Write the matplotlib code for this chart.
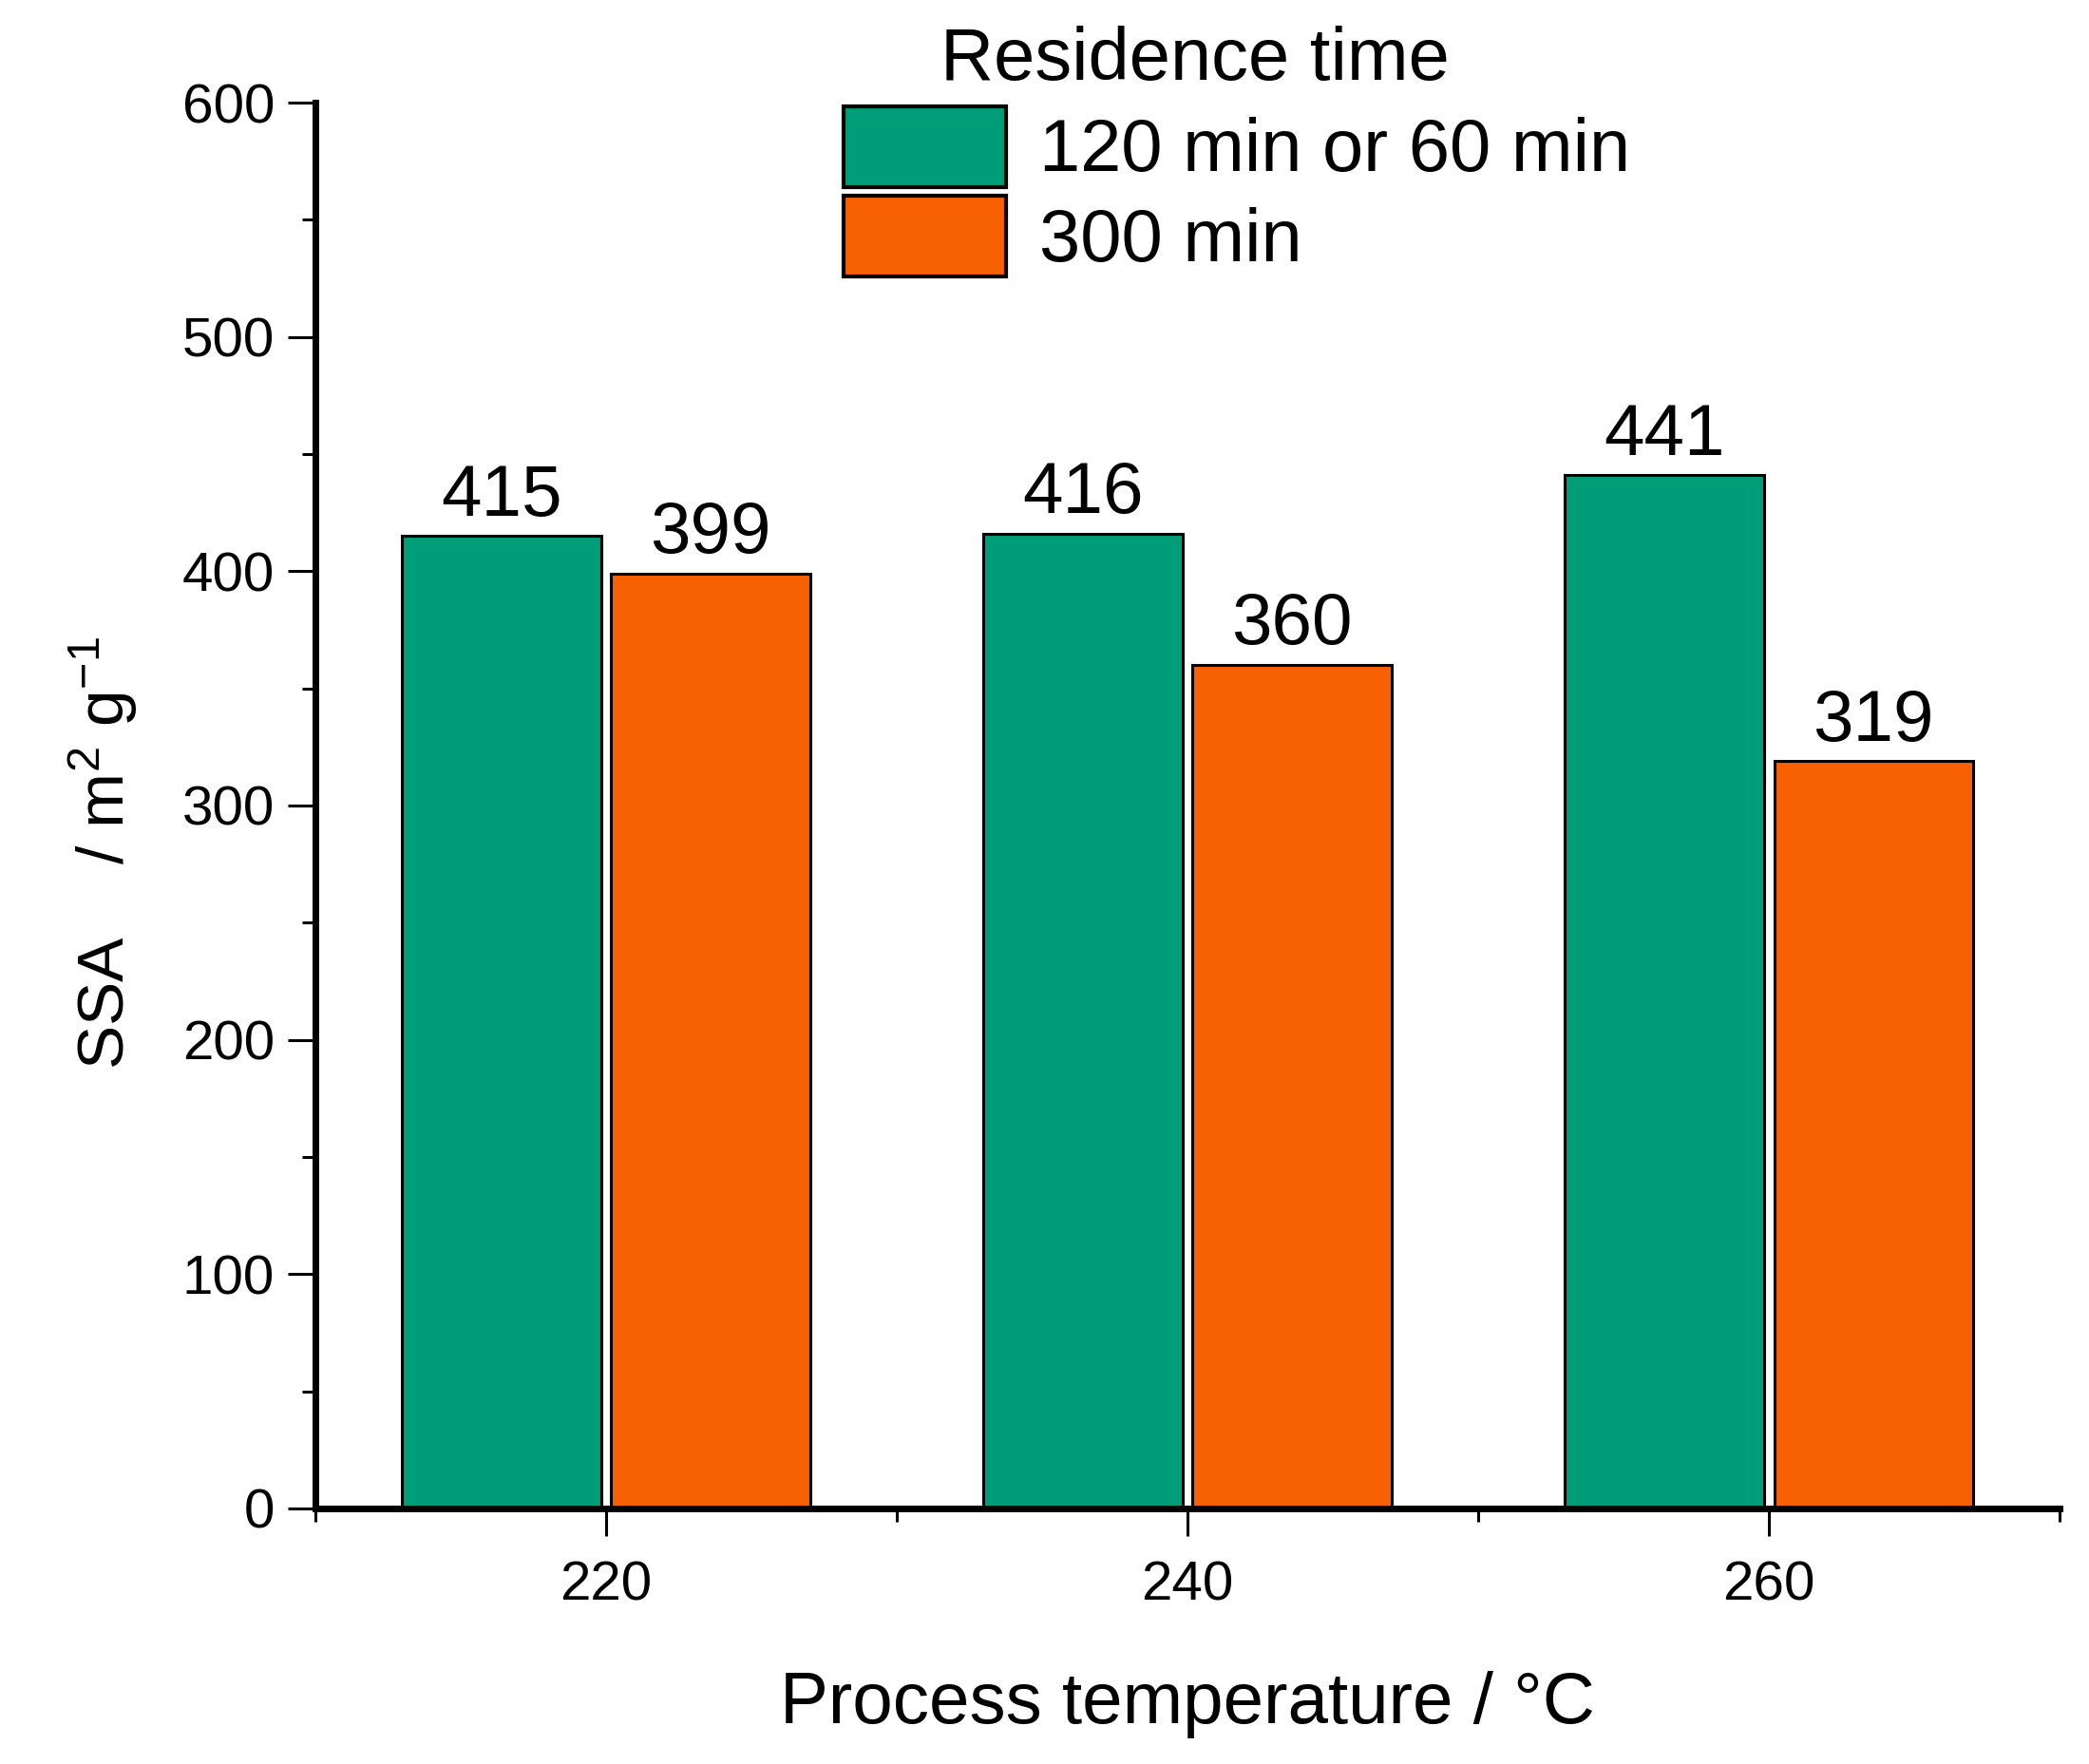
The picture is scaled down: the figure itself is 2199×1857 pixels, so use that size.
import numpy as np
import matplotlib.pyplot as plt
from matplotlib.ticker import MultipleLocator

plt.rcParams['font.family'] = ['Liberation Sans', 'DejaVu Sans']
plt.rcParams['mathtext.fontset'] = 'custom'
plt.rcParams['mathtext.rm'] = 'Liberation Sans'
plt.rcParams['mathtext.default'] = 'regular'

# data
temps = [220, 240, 260]
ssa_short = [415, 416, 441]   # 120 min or 60 min
ssa_long = [399, 360, 319]    # 300 min
series_labels = ['120 min or 60 min', '300 min']
legend_title = 'Residence time'

green = '#009E78'
orange = '#F86103'

fig = plt.figure(figsize=(21.99, 18.57), dpi=100)
ax = fig.add_axes([0.151, 0.1449, 0.835, 0.7969])

x = np.array(temps, dtype=float)
w = 6.85
b1 = ax.bar(x - 3.6, ssa_short, width=w, color=green, edgecolor='black',
            linewidth=2.2, label=series_labels[0])
b2 = ax.bar(x + 3.6, ssa_long, width=w, color=orange, edgecolor='black',
            linewidth=2.2, label=series_labels[1])
ax.bar_label(b1, padding=4, fontsize=55)
ax.bar_label(b2, padding=4, fontsize=55)

ax.set_xlim(210, 270)
ax.set_ylim(0, 600)
ax.set_xticks(temps)
ax.xaxis.set_minor_locator(MultipleLocator(10))
ax.yaxis.set_major_locator(MultipleLocator(100))
ax.yaxis.set_minor_locator(MultipleLocator(50))

for s in ['top', 'right']:
    ax.spines[s].set_visible(False)
for s in ['left', 'bottom']:
    ax.spines[s].set_linewidth(5)

ax.tick_params(which='major', direction='out', length=21, width=2.2, labelsize=42)
ax.tick_params(axis='y', which='major', pad=10)
ax.tick_params(axis='x', which='major', pad=18)
ax.tick_params(which='minor', direction='out', length=10, width=2.2)

ax.set_xlabel('Process temperature / \u00b0C', fontsize=55, labelpad=45)
ax.set_ylabel('SSA    / m$^2$ g$^{-1}$', fontsize=50)
ax.yaxis.set_label_coords(-0.101, 0.466)

leg = ax.legend(loc='upper left',
                bbox_to_anchor=(888 / 2199, 1 - 112 / 1857),
                bbox_transform=fig.transFigure, frameon=False,
                fontsize=56, borderpad=0,
                handlelength=2.2, handleheight=1.3, handletextpad=0.45,
                labelspacing=0.12, borderaxespad=0)
for h in leg.legend_handles:
    h.set_linewidth(3)
fig.text(897 / 1568, 1 - 45 / 1324, legend_title, fontsize=56,
         ha='center', va='center')

fig.savefig('out.png', dpi=100)
